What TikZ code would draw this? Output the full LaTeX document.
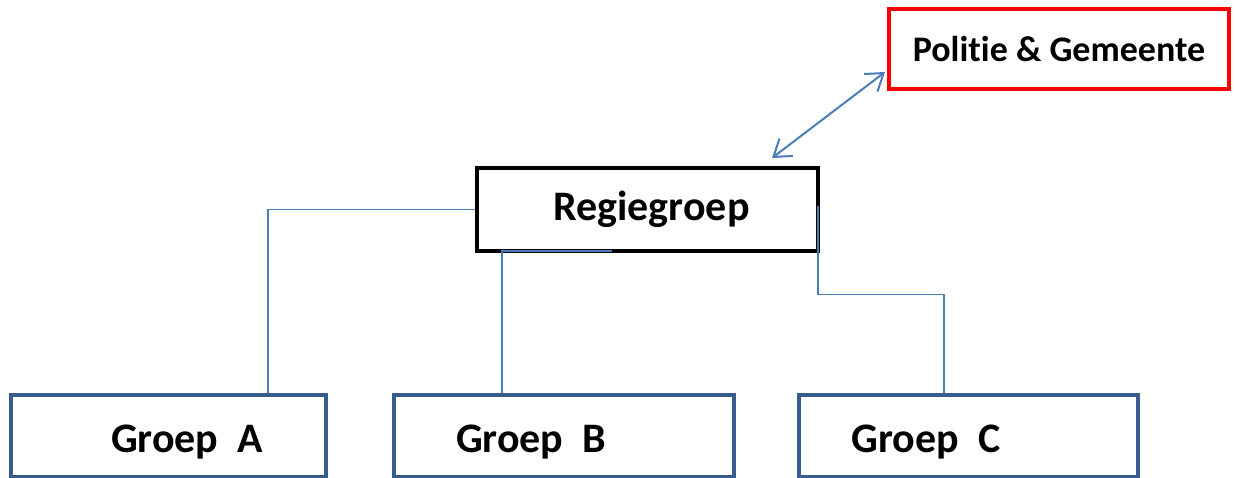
\documentclass[tikz,border=0pt]{standalone}
\usepackage{fontspec}
\setmainfont{Carlito}[Ligatures=NoCommon]
\usetikzlibrary{calc}
\usetikzlibrary{arrows.meta}
\definecolor{boxblue}{HTML}{385D8A}
\definecolor{lineblue}{HTML}{4A7EBB}
\tikzset{
  grp/.style={draw=boxblue, line width=2pt, minimum height=41pt, inner sep=0pt},
  conn/.style={draw=lineblue, line width=0.75pt},
  lbl/.style={font=\fontsize{21}{25}\selectfont\bfseries, inner sep=0pt},
  barb/.tip={Straight Barb[length=8pt,width=11pt]}
}

\begin{document}
\begin{tikzpicture}[x=0.5pt,y=-0.5pt]
  \useasboundingbox (0,0) rectangle (1235,477);
  \node[draw, line width=2pt, minimum width=170.5pt, minimum height=41.5pt, lbl] (reg) at (647.5,209.5) {\hspace{4pt}Regiegroep};
  \node[draw=red, line width=2pt, minimum width=170pt, minimum height=40pt, inner sep=0pt,
        font=\fontsize{18}{22}\selectfont\bfseries] (pol) at (1059,49) {\raisebox{-1.5pt}{Politie \& Gemeente}};
  \node[grp, minimum width=157.5pt] (grpA) at (168.5,435.5) {};
  \node[grp, minimum width=170pt] (grpB) at (564,435.5) {};
  \node[grp, minimum width=169.5pt] (grpC) at (968.5,435.5) {};
  \node[lbl, anchor=base] (txtA) at (187,452) {Groep~~A};
  \node[lbl, anchor=base] (txtB) at (531,452) {Groep~~B};
  \node[lbl, anchor=base] (txtC) at (926,452) {Groep~~C};
%  \draw[conn] (reg.south) -- (grpB.north);
  \draw[conn] (reg.west) -| ($(grpA.north)+(99.5,0)$);
  \draw[conn] ($(reg.south)+(-35.5,-2)$) -| ($(grpB.north)+(-62,0)$);
  \draw[conn] ($(reg.east)+(-2,-4)$) |- ($(grpC.north)+(-24.5,-98)$) -- ($(grpC.north)+(-24.5,0)$);
  \draw[conn, line width=1pt, barb-barb] ($(reg.north)+(124.5,-8)$) -- ($(pol.south west)+(-2,-19)$);
\end{tikzpicture}
\end{document}
